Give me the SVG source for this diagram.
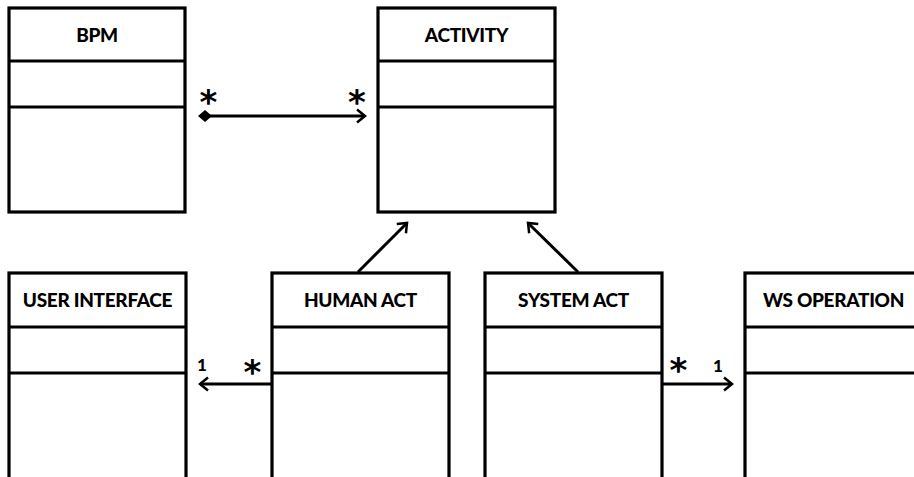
<svg xmlns="http://www.w3.org/2000/svg" width="914" height="477" viewBox="0 0 914 477">
  <style>
    .box { fill: #fff; stroke: #000; stroke-width: 3.2; }
    .sep { stroke: #000; stroke-width: 3.2; }
    .title { font-family: Lato, "Liberation Sans", sans-serif; font-weight: 900; font-size: 19px; letter-spacing: -0.3px; text-anchor: middle; fill: #000; }
    .edge { stroke: #000; stroke-width: 3; fill: none; }
    .mult { font-family: "DejaVu Sans", sans-serif; font-weight: 700; font-size: 34px; text-anchor: middle; fill: #000; }
    .one { font-family: Lato, "Liberation Sans", sans-serif; font-weight: 900; font-size: 17px; text-anchor: middle; fill: #000; }
  </style>
  <defs>
    <marker id="open" markerUnits="userSpaceOnUse" markerWidth="20" markerHeight="20" refX="0" refY="0" viewBox="-12 -10 14 20" orient="auto" overflow="visible">
      <path d="M-8,-6.5 L0,0 L-8,6.5" fill="none" stroke="#000" stroke-width="2.5"/>
    </marker>
  </defs>
  <rect width="914" height="477" fill="#fff"/>

  <g id="bpm">
    <rect class="box" x="9" y="8" width="176" height="204"/>
    <line class="sep" x1="9" y1="61" x2="185" y2="61"/>
    <line class="sep" x1="9" y1="107" x2="185" y2="107"/>
    <text class="title" x="97" y="42">BPM</text>
  </g>

  <g id="activity">
    <rect class="box" x="378" y="8" width="177" height="204"/>
    <line class="sep" x1="378" y1="61" x2="555" y2="61"/>
    <line class="sep" x1="378" y1="107" x2="555" y2="107"/>
    <text class="title" x="466.5" y="42">ACTIVITY</text>
  </g>

  <g id="user-interface">
    <rect class="box" x="9" y="273" width="177" height="260"/>
    <line class="sep" x1="9" y1="327" x2="186" y2="327"/>
    <line class="sep" x1="9" y1="373" x2="186" y2="373"/>
    <text class="title" x="97.5" y="307">USER INTERFACE</text>
  </g>

  <g id="human-act">
    <rect class="box" x="272" y="273" width="177" height="260"/>
    <line class="sep" x1="272" y1="327" x2="449" y2="327"/>
    <line class="sep" x1="272" y1="373" x2="449" y2="373"/>
    <text class="title" x="360.5" y="307">HUMAN ACT</text>
  </g>

  <g id="system-act">
    <rect class="box" x="485" y="273" width="177" height="260"/>
    <line class="sep" x1="485" y1="327" x2="662" y2="327"/>
    <line class="sep" x1="485" y1="373" x2="662" y2="373"/>
    <text class="title" x="573.5" y="307">SYSTEM ACT</text>
  </g>

  <g id="ws-operation">
    <rect class="box" x="745" y="273" width="177" height="260"/>
    <line class="sep" x1="745" y1="327" x2="922" y2="327"/>
    <line class="sep" x1="745" y1="373" x2="922" y2="373"/>
    <text class="title" x="833.5" y="307">WS OPERATION</text>
  </g>

  <g id="connectors">
    <!-- composition BPM -> ACTIVITY -->
    <line class="edge" x1="210" y1="116" x2="365" y2="116" marker-end="url(#open)"/>
    <polygon points="198,116 205,110 212,116 205,122" fill="#000"/>
    <text class="mult" x="208.5" y="114">*</text>
    <text class="mult" x="357" y="114">*</text>

    <!-- generalisations to ACTIVITY -->
    <line class="edge" x1="358" y1="272" x2="407" y2="223" marker-end="url(#open)"/>
    <line class="edge" x1="578" y1="272" x2="528" y2="223" marker-end="url(#open)"/>

    <!-- HUMAN ACT -> USER INTERFACE -->
    <line class="edge" x1="271" y1="384" x2="200" y2="384" marker-end="url(#open)"/>
    <text class="one" x="202" y="371">1</text>
    <text class="mult" x="252.5" y="384">*</text>

    <!-- SYSTEM ACT -> WS OPERATION -->
    <line class="edge" x1="663" y1="384" x2="732" y2="384" marker-end="url(#open)"/>
    <text class="mult" x="678.5" y="382">*</text>
    <text class="one" x="718" y="372">1</text>
  </g>
</svg>
